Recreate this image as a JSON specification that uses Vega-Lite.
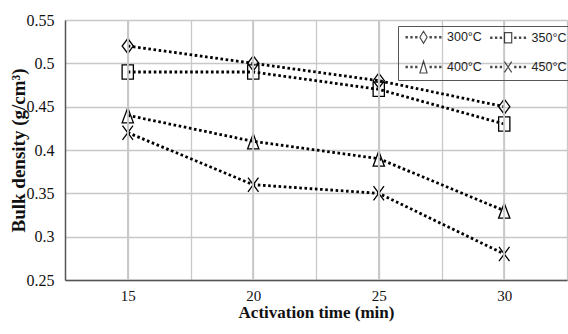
{
  "$schema": "https://vega.github.io/schema/vega-lite/v6.json",
  "autosize": {"type": "none"},
  "width": 502,
  "height": 260,
  "padding": {"left": 65, "top": 20, "right": 1, "bottom": 54},
  "background": "white",
  "config": {
    "view": {"stroke": null},
    "axis": {"gridColor": "#c8c8c8", "gridWidth": 1.3, "domainColor": "#555555", "domainWidth": 1.5, "ticks": false, "labelFont": "Liberation Serif", "labelFontSize": 16, "labelColor": "#111111", "titleFont": "Liberation Serif", "titleFontWeight": "bold", "titleColor": "#111111"}
  },
  "data": {
    "values": [
      {"time": 15, "temp": "300°C", "density": 0.52},
      {"time": 20, "temp": "300°C", "density": 0.50},
      {"time": 25, "temp": "300°C", "density": 0.48},
      {"time": 30, "temp": "300°C", "density": 0.45},
      {"time": 15, "temp": "350°C", "density": 0.49},
      {"time": 20, "temp": "350°C", "density": 0.49},
      {"time": 25, "temp": "350°C", "density": 0.47},
      {"time": 30, "temp": "350°C", "density": 0.43},
      {"time": 15, "temp": "400°C", "density": 0.44},
      {"time": 20, "temp": "400°C", "density": 0.41},
      {"time": 25, "temp": "400°C", "density": 0.39},
      {"time": 30, "temp": "400°C", "density": 0.33},
      {"time": 15, "temp": "450°C", "density": 0.42},
      {"time": 20, "temp": "450°C", "density": 0.36},
      {"time": 25, "temp": "450°C", "density": 0.35},
      {"time": 30, "temp": "450°C", "density": 0.28}
    ]
  },
  "encoding": {
    "x": {"field": "time", "type": "quantitative", "scale": {"domain": [12.5, 32.5], "nice": false, "zero": false},
      "axis": {"values": [15, 17.5, 20, 22.5, 25, 27.5, 30, 32.5], "labelExpr": "datum.value % 5 == 0 ? datum.value : ''", "labelPadding": 8, "labelFontSize": 15, "title": "Activation time (min)", "titleFontSize": 17, "titlePadding": 1, "labelFlush": false}},
    "y": {"field": "density", "type": "quantitative", "scale": {"domain": [0.25, 0.55], "nice": false, "zero": false},
      "axis": {"values": [0.25, 0.3, 0.35, 0.4, 0.45, 0.5, 0.55], "format": ".2~f", "labelPadding": 11, "title": "Bulk density (g/cm³)", "titleFontSize": 19, "titlePadding": -2}}
  },
  "layer": [
    {
      "mark": {"type": "line", "color": "black", "strokeWidth": 2.8, "strokeDash": [2.6, 2.6]},
      "encoding": {"detail": {"field": "temp"}}
    },
    {
      "mark": {"type": "point", "filled": false, "color": "black", "strokeWidth": 1.3, "size": 225, "opacity": 1},
      "encoding": {
        "shape": {"field": "temp", "type": "nominal",
          "scale": {"domain": ["300°C", "350°C", "400°C", "450°C"],
            "range": ["M0,-1L0.75,0L0,1L-0.75,0Z", "M-0.75,-0.95H0.75V0.95H-0.75Z", "M0,-1L0.75,1H-0.75Z", "M-0.7,-0.95L0.7,0.95M0.7,-0.95L-0.7,0.95"]},
          "legend": null
        }
      }
    },
    {
      "transform": [{"filter": "datum.time < 0"}],
      "mark": {"type": "point", "filled": false, "color": "black", "strokeWidth": 1.2},
      "encoding": {
        "shape": {"field": "temp", "type": "nominal",
          "scale": {"domain": ["300°C", "350°C", "400°C", "450°C"],
            "range": [
              "M0,-1L0.6,0L0,1L-0.6,0ZM-2.9,-0.1h0.2v0.2h-0.2ZM-2.1,-0.1h0.2v0.2h-0.2ZM-1.3,-0.1h0.2v0.2h-0.2ZM1.1,-0.1h0.2v0.2h-0.2ZM1.9,-0.1h0.2v0.2h-0.2ZM2.7,-0.1h0.2v0.2h-0.2Z",
              "M-0.6,-0.85H0.6V0.85H-0.6ZM-2.9,-0.1h0.2v0.2h-0.2ZM-2.1,-0.1h0.2v0.2h-0.2ZM-1.3,-0.1h0.2v0.2h-0.2ZM1.1,-0.1h0.2v0.2h-0.2ZM1.9,-0.1h0.2v0.2h-0.2ZM2.7,-0.1h0.2v0.2h-0.2Z",
              "M0,-1L0.6,1H-0.6ZM-2.9,-0.1h0.2v0.2h-0.2ZM-2.1,-0.1h0.2v0.2h-0.2ZM-1.3,-0.1h0.2v0.2h-0.2ZM1.1,-0.1h0.2v0.2h-0.2ZM1.9,-0.1h0.2v0.2h-0.2ZM2.7,-0.1h0.2v0.2h-0.2Z",
              "M-0.6,-0.9L0.6,0.9M0.6,-0.9L-0.6,0.9M-2.9,-0.1h0.2v0.2h-0.2ZM-2.1,-0.1h0.2v0.2h-0.2ZM-1.3,-0.1h0.2v0.2h-0.2ZM1.1,-0.1h0.2v0.2h-0.2ZM1.9,-0.1h0.2v0.2h-0.2ZM2.7,-0.1h0.2v0.2h-0.2Z"
            ]},
          "legend": {
            "title": null, "orient": "none", "legendX": 333, "legendY": 6, "direction": "horizontal", "columns": 2,
            "strokeColor": "#555555", "padding": 4, "columnPadding": 4.6, "rowPadding": 12,
            "symbolSize": 144, "symbolOffset": 14.5, "labelOffset": 16.5, "symbolStrokeWidth": 1.2, "symbolStrokeColor": "black", "symbolFillColor": "transparent",
            "labelFont": "Liberation Sans", "labelFontSize": 12.5, "labelColor": "#222222"
          }
        }
      }
    },
    {
      "mark": {"type": "rule", "color": "#c8c8c8", "strokeWidth": 1.3},
      "encoding": {"y": {"datum": 0.55}}
    }
  ],
  "resolve": {"scale": {"shape": "independent"}}
}
